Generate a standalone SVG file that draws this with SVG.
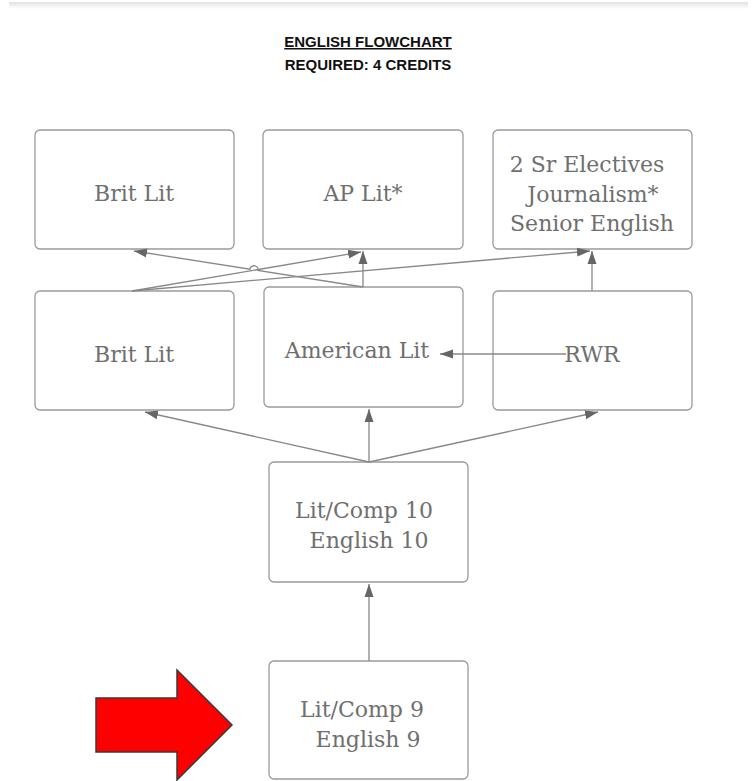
<svg xmlns="http://www.w3.org/2000/svg" width="755" height="781" viewBox="0 0 755 781">
<defs>
<linearGradient id="topbar" x1="0" y1="0" x2="0" y2="1">
<stop offset="0" stop-color="#e2e2e2"/>
<stop offset="1" stop-color="#ffffff"/>
</linearGradient>
<marker id="ah" markerUnits="userSpaceOnUse" markerWidth="14" markerHeight="10" refX="13" refY="5" orient="auto">
<path d="M0,0.5 L13,5 L0,9.5 Z" fill="#666"/>
</marker>
<style>
.box{fill:#fff;stroke:#9a9a9a;stroke-width:1.3}
.lbl{font-family:"DejaVu Serif","Liberation Serif",serif;font-size:22px;fill:#6f6f6f;text-anchor:middle}
.hdr{font-family:"Liberation Sans",Arial,sans-serif;font-size:15px;font-weight:bold;fill:#111;text-anchor:middle}
.con{fill:none;stroke:#888;stroke-width:1.3;marker-end:url(#ah)}
</style>
</defs>
<rect width="755" height="781" fill="#fff"/>
<rect x="9" y="2" width="739" height="7" fill="url(#topbar)"/>
<g id="header">
<text class="hdr" x="368" y="47" text-decoration="underline">ENGLISH FLOWCHART</text>
<text class="hdr" x="368" y="70">REQUIRED: 4 CREDITS</text>
</g>
<g id="n-britlit-top">
<rect class="box" x="35" y="130" width="199" height="119" rx="5"/>
<text class="lbl" x="134" y="201">Brit Lit</text>
</g>
<g id="n-aplit">
<rect class="box" x="263" y="130" width="200" height="119" rx="5"/>
<text class="lbl" x="363" y="201">AP Lit*</text>
</g>
<g id="n-electives">
<rect class="box" x="493" y="130" width="199" height="119" rx="5"/>
<text class="lbl" x="587" y="172">2 Sr Electives</text>
<text class="lbl" x="593" y="202">Journalism*</text>
<text class="lbl" x="592" y="231">Senior English</text>
</g>
<g id="n-britlit-mid">
<rect class="box" x="35" y="291" width="199" height="119" rx="5"/>
<text class="lbl" x="134" y="362">Brit Lit</text>
</g>
<g id="n-amlit">
<rect class="box" x="264" y="287" width="199" height="120" rx="5"/>
<text class="lbl" x="357" y="358">American Lit</text>
</g>
<g id="n-rwr">
<rect class="box" x="493" y="291" width="199" height="119" rx="5"/>
<text class="lbl" x="592" y="362">RWR</text>
</g>
<g id="n-litcomp10">
<rect class="box" x="269" y="462" width="199" height="120" rx="5"/>
<text class="lbl" x="364" y="518">Lit/Comp 10</text>
<text class="lbl" x="369" y="548">English 10</text>
</g>
<g id="n-litcomp9">
<rect class="box" x="269" y="661" width="199" height="118" rx="5"/>
<text class="lbl" x="362" y="717">Lit/Comp 9</text>
<text class="lbl" x="368" y="747">English 9</text>
</g>
<g id="connectors">
<path class="con" d="M369,661 L369,584"/>
<path class="con" d="M369,462 L145,412"/>
<path class="con" d="M369,462 L369,409"/>
<path class="con" d="M369,462 L598,412"/>
<path class="con" d="M566,354 L440,354"/>
<path class="con" d="M592,291 L592,251"/>
<path class="con" d="M363,287 L363,251"/>
<path class="con" d="M132,291 L361,252"/>
<path class="con" d="M132,291 L590,251"/>
<path class="con" d="M363,287 L258,270.4 A4,4 0 0 0 250,269.2 L134,251"/>
</g>
<g id="red-arrow">
<polygon points="96,698 177,698 177,670 232,725 177,780 177,752 96,752" fill="#ff0000" stroke="#3a3a3a" stroke-width="1.5"/>
</g>
</svg>
